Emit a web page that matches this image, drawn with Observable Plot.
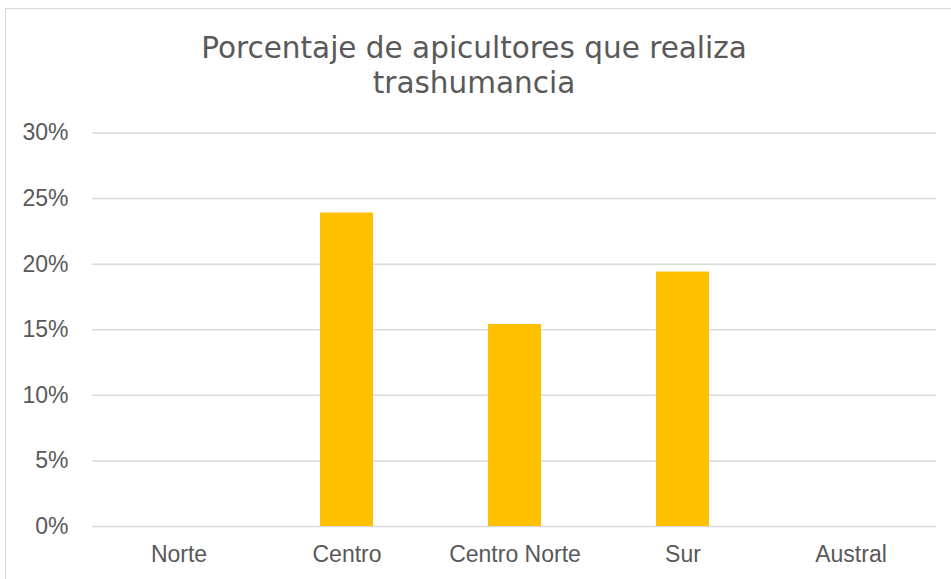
<!DOCTYPE html>
<html>
<head>
<meta charset="utf-8">
<script src="https://cdn.jsdelivr.net/npm/d3@7"></script>
<script src="https://cdn.jsdelivr.net/npm/@observablehq/plot@0.6"></script>
<style>
  html, body { margin: 0; padding: 0; background: #fff; }
  #wrap { position: relative; width: 951px; height: 579px; overflow: hidden; }
  #frame { position: absolute; left: 5px; top: 8px; width: 960px; height: 600px; border: 1.5px solid #d9d9d9; box-sizing: border-box; }
  #title { position: absolute; left: 0; width: 948px; top: 31px; text-align: center;
           font-family: "DejaVu Sans", Verdana, sans-serif; font-size: 29.5px; line-height: 34.5px; color: #595959; }
  #chart { position: absolute; left: 0; top: 0; }
</style>
</head>
<body>
<div id="wrap">
  <div id="frame"></div>
  <div id="chart"></div>
  <div id="title">Porcentaje de apicultores que realiza<br>trashumancia</div>
</div>
<script>
const categories = ["Norte", "Centro", "Centro Norte", "Sur", "Austral"];
const values = [0, 0.239, 0.154, 0.194, 0];
const yTicks = [0, 0.05, 0.10, 0.15, 0.20, 0.25, 0.30];
const yTickLabels = ["0%", "5%", "10%", "15%", "20%", "25%", "30%"];

const data = categories.map((c, i) => ({ region: c, value: values[i] }));

const chart = Plot.plot({
  width: 951,
  height: 579,
  marginLeft: 92,
  marginRight: 15,
  marginTop: 132.5,
  marginBottom: 53,
  style: { fontFamily: "'Liberation Sans', Arial, sans-serif", fontSize: "23px", color: "#595959", background: "transparent", overflow: "visible" },
  x: { domain: categories, paddingInner: 0.686, paddingOuter: 0.343, label: null },
  y: { domain: [0, 0.30], label: null },
  marks: [
    Plot.ruleY(yTicks, { stroke: "#d9d9d9", strokeWidth: 1.5, strokeOpacity: 1 }),
    Plot.barY(data, { x: "region", y: "value", fill: "#FFC000" }),
    Plot.axisY({ ticks: yTicks, tickFormat: (d) => yTickLabels[yTicks.indexOf(d)], tickSize: 0, tickPadding: 24, label: null, fill: "#595959" }),
    Plot.axisX({ tickSize: 0, tickPadding: 19, label: null, fill: "#595959" })
  ]
});
document.getElementById("chart").appendChild(chart);
</script>
</body>
</html>
